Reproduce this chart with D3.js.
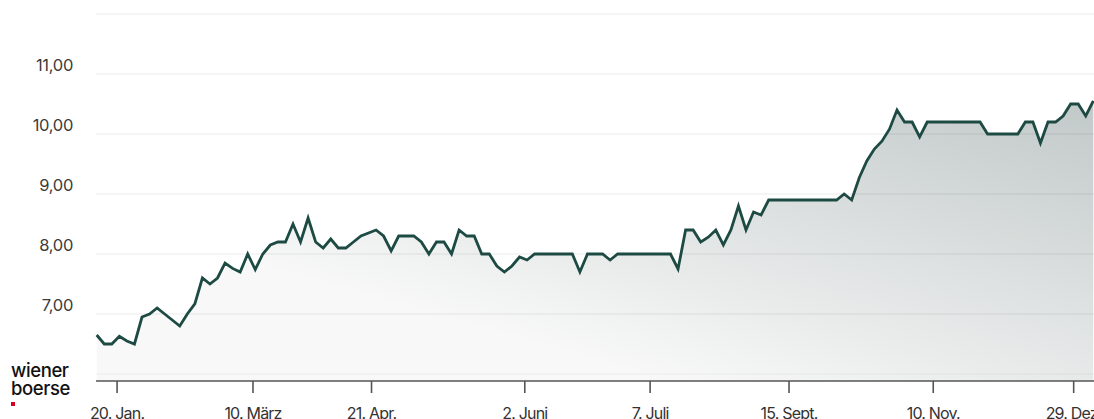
<!DOCTYPE html>
<html>
<head>
<meta charset="utf-8">
<script src="https://cdn.jsdelivr.net/npm/d3@7"></script>
<style>
  html, body { margin: 0; padding: 0; background: #fff; }
  svg { display: block; }
</style>
</head>
<body>
<div id="chart"></div>
<script>
// ---- data ----
const values = [
  6.65, 6.5, 6.5, 6.63, 6.55, 6.5, 6.95, 7.0, 7.1, 7.0,
  6.9, 6.8, 7.0, 7.17, 7.6, 7.5, 7.6, 7.85, 7.76, 7.7,
  8.0, 7.74, 8.0, 8.15, 8.2, 8.2, 8.5, 8.2, 8.6, 8.2,
  8.1, 8.25, 8.1, 8.1, 8.2, 8.3, 8.35, 8.4, 8.3, 8.05,
  8.3, 8.3, 8.3, 8.2, 8.0, 8.2, 8.2, 8.0, 8.4, 8.3,
  8.3, 8.0, 8.0, 7.8, 7.7, 7.8, 7.95, 7.9, 8.0, 8.0,
  8.0, 8.0, 8.0, 8.0, 7.7, 8.0, 8.0, 8.0, 7.9, 8.0,
  8.0, 8.0, 8.0, 8.0, 8.0, 8.0, 8.0, 7.75, 8.4, 8.4,
  8.2, 8.28, 8.4, 8.15, 8.4, 8.8, 8.4, 8.7, 8.65, 8.9,
  8.9, 8.9, 8.9, 8.9, 8.9, 8.9, 8.9, 8.9, 8.9, 9.0,
  8.9, 9.27, 9.55, 9.75, 9.88, 10.08, 10.4, 10.2, 10.2, 9.95,
  10.2, 10.2, 10.2, 10.2, 10.2, 10.2, 10.2, 10.2, 10.0, 10.0,
  10.0, 10.0, 10.0, 10.2, 10.2, 9.85, 10.2, 10.2, 10.3, 10.5,
  10.5, 10.3, 10.55
];
// tick locations expressed in data-point (trading session) units
const tickSessions = [2.7, 20.7, 36.4, 56.7, 73.3, 91.7, 110.8, 129.4];
const tickLabels = ["20. Jan.", "10. März", "21. Apr.", "2. Juni", "7. Juli", "15. Sept.", "10. Nov.", "29. Dez."];
const yTicks = [6, 7, 8, 9, 10, 11, 12];
const yLabelled = [7, 8, 9, 10, 11];

// ---- layout ----
const W = 1094, H = 419;
const left = 96.7, right = 1093.3;
const yTop = 14, yBottom = 374, axisY = 381;

const svg = d3.select("#chart").append("svg")
  .attr("width", W).attr("height", H);

const x = d3.scaleLinear().domain([0, values.length - 1]).range([left, right]);
const y = d3.scaleLinear().domain([6, 12]).range([yBottom, yTop]);

const fmt = v => d3.format(".2f")(v).replace(".", ",");
const FONT = "Inter, 'Liberation Sans', sans-serif";

// gradient
const defs = svg.append("defs");
const grad = defs.append("linearGradient")
  .attr("id", "areaGrad")
  .attr("gradientUnits", "userSpaceOnUse")
  .attr("x1", 1094).attr("y1", 100)
  .attr("x2", 988).attr("y2", 474);
grad.append("stop").attr("offset", 0).attr("stop-color", "#c1c9c8");
grad.append("stop").attr("offset", 1).attr("stop-color", "#f8f8f8");

// area
const area = d3.area()
  .x((d, i) => x(i))
  .y0(axisY)
  .y1(d => y(d));
svg.append("path")
  .datum(values)
  .attr("d", area)
  .attr("fill", "url(#areaGrad)");

// gridlines
svg.append("g")
  .selectAll("line")
  .data(yTicks)
  .join("line")
  .attr("x1", left - 0.7).attr("x2", W)
  .attr("y1", d => y(d)).attr("y2", d => y(d))
  .attr("stroke", "#000")
  .attr("stroke-opacity", d => d === 6 ? 0.05 : 0.08)
  .attr("stroke-width", 1.2);

// y labels
svg.append("g")
  .selectAll("text")
  .data(yLabelled)
  .join("text")
  .attr("x", 73)
  .attr("y", d => y(d) - 3.5)
  .attr("text-anchor", "end")
  .attr("font-family", FONT)
  .attr("font-size", 16.5)
  .attr("letter-spacing", -0.3)
  .attr("fill", "#3c3c3c")
  .text(fmt);

// line
const line = d3.line().x((d, i) => x(i)).y(d => y(d));
svg.append("path")
  .datum(values)
  .attr("d", line)
  .attr("fill", "none")
  .attr("stroke", "#1d4a43")
  .attr("stroke-width", 2.8)
  .attr("stroke-linejoin", "miter");

// x axis
svg.append("line")
  .attr("x1", left - 0.7).attr("x2", W)
  .attr("y1", axisY).attr("y2", axisY)
  .attr("stroke", "#555").attr("stroke-width", 1.6);

const xt = svg.append("g")
  .selectAll("g")
  .data(tickSessions)
  .join("g")
  .attr("transform", d => `translate(${x(d)},0)`);
xt.append("line")
  .attr("y1", axisY).attr("y2", axisY + 12)
  .attr("stroke", "#555").attr("stroke-width", 1.6);
xt.append("text")
  .attr("y", 419)
  .attr("text-anchor", "middle")
  .attr("font-family", FONT)
  .attr("font-size", 16)
  .attr("letter-spacing", -0.8)
  .attr("fill", "#333")
  .text((d, i) => tickLabels[i]);

// logo
const logo = svg.append("g")
  .attr("font-family", FONT)
  .attr("font-size", 18.5)
  .attr("font-weight", 500)
  .attr("letter-spacing", -0.4)
  .attr("fill", "#111");
logo.append("text").attr("x", 11).attr("y", 377).text("wiener");
logo.append("text").attr("x", 11).attr("y", 395).text("boerse");
svg.append("rect")
  .attr("x", 11).attr("y", 402).attr("width", 4).attr("height", 4)
  .attr("fill", "#d4001f");
</script>
</body>
</html>
